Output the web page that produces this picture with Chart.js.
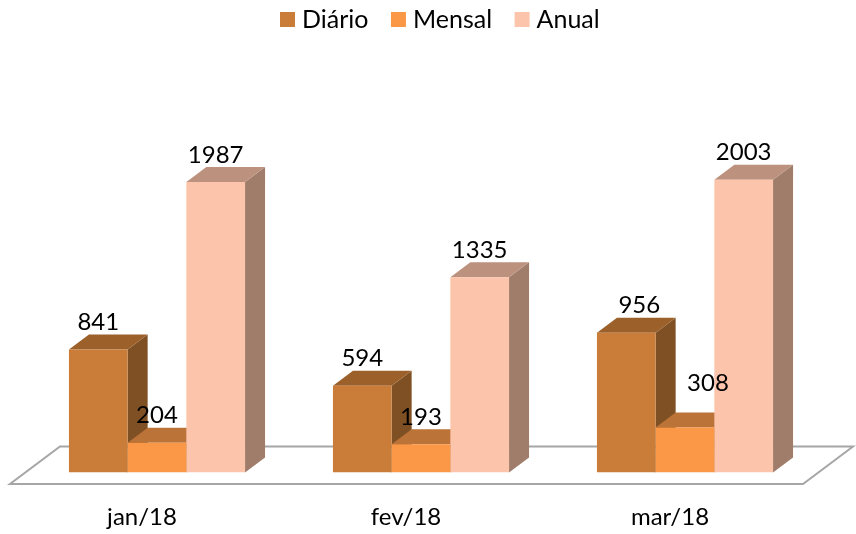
<!DOCTYPE html>
<html>
<head>
<meta charset="utf-8">
<script src="https://cdn.jsdelivr.net/npm/chart.js@4"></script>
<style>
  html, body { margin: 0; padding: 0; background: #fff; }
  #wrap { width: 856px; height: 534px; }
  canvas { display: block; }
</style>
</head>
<body>
<div id="wrap"><canvas id="barChart" width="856" height="534"></canvas></div>
<script>
const categories = ['jan/18', 'fev/18', 'mar/18'];
const diario = [841, 594, 956];
const mensal = [204, 193, 308];
const anual = [1987, 1335, 2003];

const fontName = 'Lato';
const depthX = 20, depthY = 15;

// tampa e lateral de cada serie
const sideColors = ['#7f5024', '#9a6030', '#a07c6a'];
const topColors = ['#9c602b', '#bc7337', '#bc917e'];

// rotulos que nao ficam centrados na barra: dataset:indice
const labelNudge = { '0:2': [13, 0], '1:2': [23, -17] };

function poly(ctx, pts, color) {
    ctx.fillStyle = color;
    ctx.beginPath();
    pts.forEach((p, i) => i ? ctx.lineTo(p[0], p[1]) : ctx.moveTo(p[0], p[1]));
    ctx.closePath();
    ctx.fill();
}

// chao + faces laterais, as frentes o Chart.js desenha depois por cima
const floor3d = {
    id: 'floor3d',
    beforeDatasetsDraw(chart) {
        const { ctx, chartArea, scales } = chart;
        const y0 = scales.y.getPixelForValue(0);
        ctx.save();
        ctx.strokeStyle = '#a6a6a6';
        ctx.lineWidth = 2;
        ctx.beginPath();
        ctx.moveTo(chartArea.left - 15, y0 + 11.5);
        ctx.lineTo(chartArea.right - 14, y0 + 11.5);
        ctx.lineTo(chartArea.right + 36, y0 - 26);
        ctx.lineTo(chartArea.left + 35, y0 - 26);
        ctx.closePath();
        ctx.stroke();

        chart.data.datasets.forEach((ds, d) => {
            chart.getDatasetMeta(d).data.forEach(bar => {
                const right = bar.x + bar.width / 2;
                const left = bar.x - bar.width / 2;
                poly(ctx, [[right, bar.y], [right + depthX, bar.y - depthY],
                    [right + depthX, bar.base - depthY], [right, bar.base]], sideColors[d]);
                poly(ctx, [[left, bar.y], [left + depthX, bar.y - depthY],
                    [right + depthX, bar.y - depthY], [right, bar.y]], topColors[d]);
            });
        });
        ctx.restore();
    }
};

const valueLabels = {
    id: 'valueLabels',
    afterDatasetsDraw(chart) {
        const { ctx } = chart;
        ctx.save();
        ctx.font = '24px ' + fontName;
        ctx.fillStyle = '#000';
        ctx.textAlign = 'center';
        ctx.textBaseline = 'middle';
        chart.data.datasets.forEach((ds, d) => {
            chart.getDatasetMeta(d).data.forEach((bar, i) => {
                const nudge = labelNudge[d + ':' + i] || [0, 0];
                ctx.fillText(ds.data[i], bar.x + nudge[0], bar.y - 27 + nudge[1]);
            });
        });
        ctx.restore();
    }
};

// legenda propria: a nativa deixa muito espaco entre caixa e texto
const topLegend = {
    id: 'topLegend',
    afterDraw(chart) {
        const { ctx } = chart;
        ctx.save();
        ctx.font = '25px ' + fontName;
        ctx.textBaseline = 'middle';
        let x = 280;
        chart.data.datasets.forEach(ds => {
            ctx.fillStyle = ds.backgroundColor;
            ctx.fillRect(x, 12, 15, 15);
            ctx.fillStyle = '#000';
            ctx.fillText(ds.label, x + 22, 19.5);
            x += 22 + ctx.measureText(ds.label).width + 22.5;
        });
        ctx.restore();
    }
};

new Chart(document.getElementById('barChart').getContext('2d'), {
    type: 'bar',
    data: {
        labels: categories,
        datasets: [
            { label: 'Diário', data: diario, backgroundColor: '#c97d38' },
            { label: 'Mensal', data: mensal, backgroundColor: '#fb9848' },
            { label: 'Anual', data: anual, backgroundColor: '#fcc4ab' }
        ]
    },
    options: {
        responsive: false,
        animation: false,
        devicePixelRatio: 1,
        layout: { padding: { left: 25, right: 39, top: 33.9, bottom: 0 } },
        datasets: { bar: { barPercentage: 1, categoryPercentage: 0.667 } },
        plugins: {
            tooltip: { enabled: false },
            legend: { display: false }
        },
        scales: {
            x: {
                grid: { display: false, tickLength: 27.3 },
                border: { display: false },
                ticks: { color: '#000', padding: 2.7, labelOffset: -15, font: { family: fontName, size: 24 } }
            },
            y: { display: false, min: 0, max: 3000 }
        }
    },
    plugins: [floor3d, valueLabels, topLegend]
});
</script>
</body>
</html>
